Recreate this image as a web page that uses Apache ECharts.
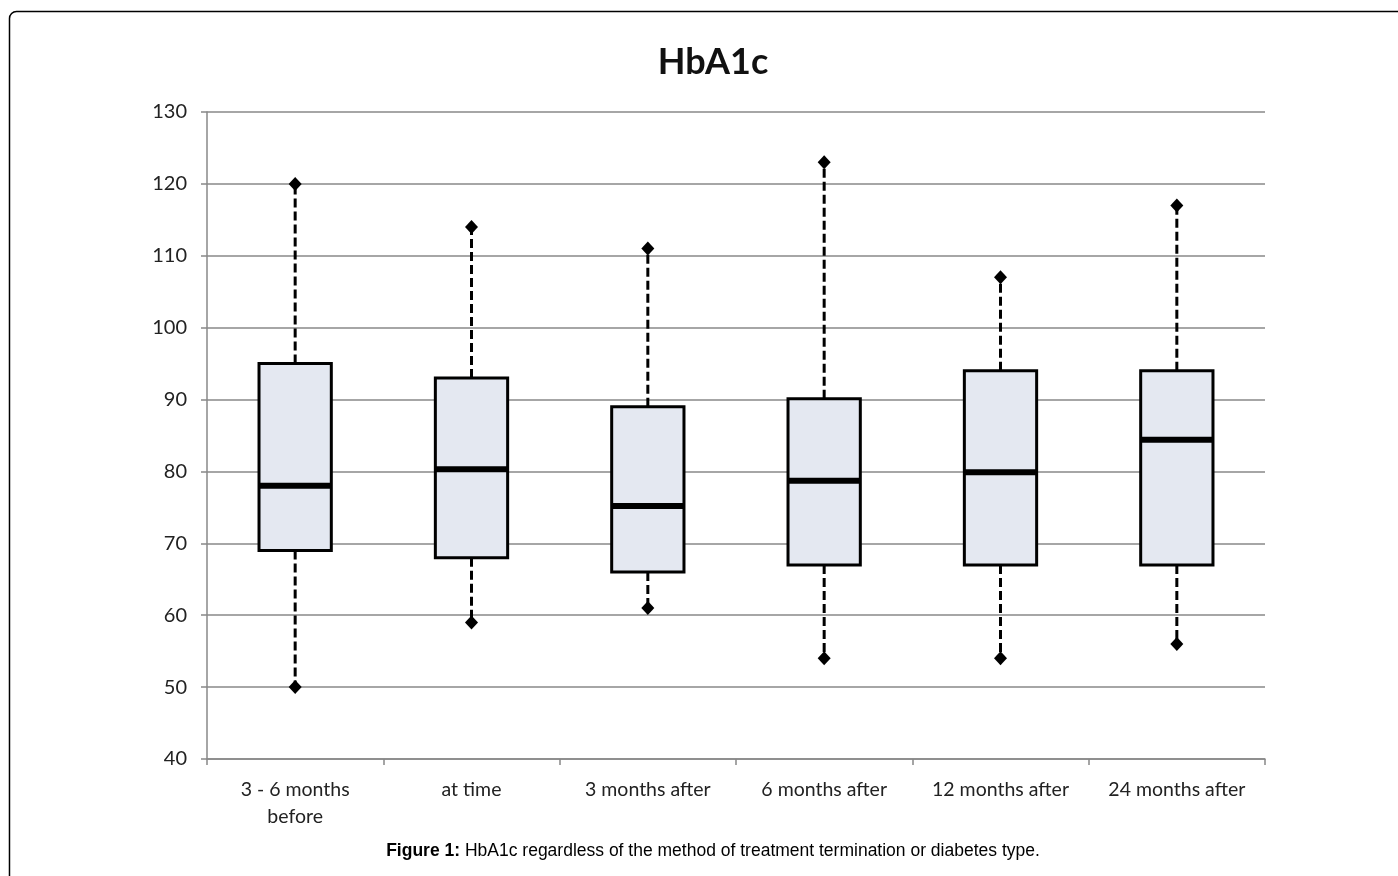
<!DOCTYPE html>
<html>
<head>
<meta charset="utf-8">
<script src="https://cdn.jsdelivr.net/npm/echarts@6/dist/echarts.min.js"></script>
<style>html,body{margin:0;padding:0;background:#fff}#c{width:1398px;height:876px}</style>
</head>
<body>
<div id="c"></div>
<script>
const categories = ['3 - 6 months\nbefore', 'at time', '3 months after', '6 months after', '12 months after', '24 months after'];
const minVals    = [50, 59, 61, 54, 54, 56];
const q1Vals     = [69, 68, 66, 67, 67, 67];
const medianVals = [78, 80.3, 75.2, 78.7, 79.9, 84.4];
const q3Vals     = [95, 93, 89, 90.1, 94, 94];
const maxVals    = [120, 114, 111, 123, 107, 117];
const yTicks     = { min: 40, max: 130, interval: 10 };

const boxData = categories.map((c, i) => [i, minVals[i], q1Vals[i], medianVals[i], q3Vals[i], maxVals[i]]);
const extremes = [];
categories.forEach((c, i) => { extremes.push([i, minVals[i]]); extremes.push([i, maxVals[i]]); });

const chart = echarts.init(document.getElementById('c'), null, { renderer: 'canvas' });
const font = 'Lato, "Open Sans", sans-serif';

chart.setOption({
  animation: false,
  backgroundColor: '#fff',
  graphic: [
    { type: 'rect', silent: true, shape: { x: 9.5, y: 11.5, width: 1600, height: 1000, r: 7 },
      style: { fill: 'none', stroke: '#000', lineWidth: 1.5 } },
    { type: 'text', x: 713, y: 62,
      style: { text: 'HbA1c', fontFamily: font, fontWeight: 'bold', fontSize: 36, fill: '#111',
               align: 'center', verticalAlign: 'middle' } },
    { type: 'text', x: 713, y: 851,
      style: {
        text: '{b|Figure 1:} HbA1c regardless of the method of treatment termination or diabetes type.',
        rich: { b: { fontWeight: 'bold', fontFamily: '"Liberation Sans", Arial, sans-serif', fontSize: 17.5, fill: '#000' } },
        fontFamily: '"Liberation Sans", Arial, sans-serif', fontSize: 17.5, fill: '#000',
        align: 'center', verticalAlign: 'middle'
      } }
  ],
  grid: { left: 207, right: 133, top: 112, bottom: 117 },
  xAxis: {
    type: 'category', data: categories, boundaryGap: true,
    axisLine: { lineStyle: { color: '#888', width: 1.5 } },
    axisTick: { show: true, length: 6, alignWithLabel: false, lineStyle: { color: '#888', width: 1.5 } },
    axisLabel: { fontFamily: font, fontSize: 19.5, color: '#222', margin: 17, lineHeight: 27, interval: 0 },
    splitLine: { show: false }
  },
  yAxis: {
    type: 'value', min: yTicks.min, max: yTicks.max, interval: yTicks.interval,
    axisLine: { show: true, lineStyle: { color: '#888', width: 1.5 } },
    axisTick: { show: true, length: 6, lineStyle: { color: '#888', width: 1.5 } },
    axisLabel: { fontFamily: font, fontSize: 20, color: '#222', margin: 20 },
    splitLine: { show: true, lineStyle: { color: '#888', width: 1.5 } }
  },
  series: [
    {
      type: 'custom',
      data: boxData,
      z: 3,
      renderItem: function (params, api) {
        const i = api.value(0);
        const pMin = api.coord([i, api.value(1)]);
        const pQ1 = api.coord([i, api.value(2)]);
        const pMed = api.coord([i, api.value(3)]);
        const pQ3 = api.coord([i, api.value(4)]);
        const pMax = api.coord([i, api.value(5)]);
        const w = api.size([1, 0])[0] * 0.41;
        const x = pQ1[0];
        const dash = { stroke: '#000', lineWidth: 3, lineDash: [9, 4] };
        return {
          type: 'group',
          children: [
            { type: 'line', shape: { x1: x, y1: pQ3[1], x2: x, y2: pMax[1] }, style: dash },
            { type: 'line', shape: { x1: x, y1: pQ1[1], x2: x, y2: pMin[1] }, style: dash },
            { type: 'rect', shape: { x: x - w / 2, y: pQ3[1], width: w, height: pQ1[1] - pQ3[1] },
              style: { fill: '#e4e8f1', stroke: '#000', lineWidth: 3 } },
            { type: 'line', shape: { x1: x - w / 2, y1: pMed[1], x2: x + w / 2, y2: pMed[1] },
              style: { stroke: '#000', lineWidth: 6 } }
          ]
        };
      }
    },
    {
      type: 'scatter', data: extremes, symbol: 'diamond', symbolSize: [13, 14], z: 4,
      itemStyle: { color: '#000', opacity: 1 }
    }
  ]
});
</script>
</body>
</html>
